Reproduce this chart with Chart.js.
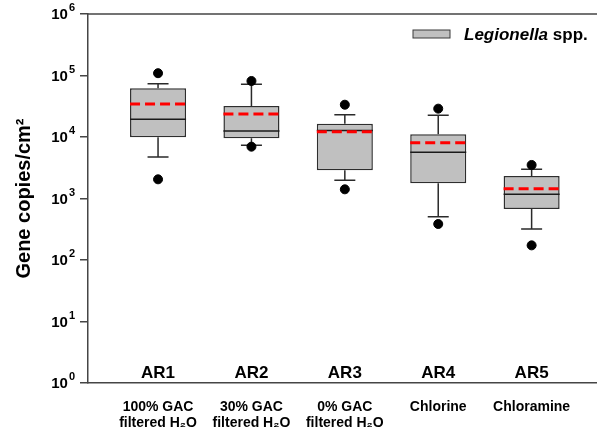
<!DOCTYPE html>
<html>
<head>
<meta charset="utf-8">
<script src="https://cdn.jsdelivr.net/npm/chart.js@4.4.1/dist/chart.umd.min.js"></script>
<style>
  html, body { margin: 0; padding: 0; background: #fff; }
  #wrap { width: 597px; height: 437px; position: relative; }
</style>
</head>
<body>
<div id="wrap"><canvas id="chart"></canvas></div>
<script>
// Legionella spp. gene copies per cm² for the five annular reactors
const reactors = ['AR1', 'AR2', 'AR3', 'AR4', 'AR5'];
const treatments = [
  ['100% GAC', 'filtered H₂O'],
  ['30% GAC', 'filtered H₂O'],
  ['0% GAC', 'filtered H₂O'],
  'Chlorine',
  'Chloramine'
];
const positions = [1, 2, 3, 4, 5];

// box-plot summaries (gene copies/cm²)
const whiskerLow  = [4730, 7330, 1980, 506, 319];
const q1          = [9900, 9500, 2870, 1770, 675];
const median      = [19400, 12500, 12800, 5640, 1170];
const mean        = [34400, 23700, 12200, 8080, 1440];
const q3          = [62000, 31900, 16400, 11100, 2320];
const whiskerHigh = [73600, 71900, 23100, 22500, 2980];
const outlierLow  = [2050, 6960, 1410, 385, 173];
const outlierHigh = [109000, 81400, 33500, 28900, 3510];

// y-axis decade ticks and their exponents
const decadeTicks = [1, 10, 100, 1000, 10000, 100000, 1000000];
const decadeExponents = ['0', '1', '2', '3', '4', '5', '6'];

const FONT = '"Liberation Sans", Arial, Helvetica, sans-serif';
const AXIS_COLOR = '#454545';

const boxPlotPlugin = {
  id: 'boxPlotParts',
  beforeDatasetsDraw(chart) {
    // whiskers and caps, drawn behind the points
    const ctx = chart.ctx;
    const xs = chart.scales.x, ys = chart.scales.y;
    ctx.save();
    ctx.strokeStyle = '#2a2a2a';
    ctx.lineWidth = 1.5;
    const capHalf = 10.5;
    positions.forEach((p, i) => {
      const cx = xs.getPixelForValue(p);
      const segs = [[q3[i], whiskerHigh[i]], [q1[i], whiskerLow[i]]];
      segs.forEach(([from, to]) => {
        const y0 = ys.getPixelForValue(from);
        const y1 = ys.getPixelForValue(to);
        ctx.beginPath();
        ctx.moveTo(cx, y0);
        ctx.lineTo(cx, y1);
        ctx.moveTo(cx - capHalf, y1);
        ctx.lineTo(cx + capHalf, y1);
        ctx.stroke();
      });
    });
    ctx.restore();
  },
  afterDatasetsDraw(chart) {
    // median (solid black) and mean (dashed red) inside each box
    const ctx = chart.ctx;
    const xs = chart.scales.x, ys = chart.scales.y;
    const boxes = chart.getDatasetMeta(0).data;
    ctx.save();
    positions.forEach((p, i) => {
      const cx = xs.getPixelForValue(p);
      const half = boxes[i].width / 2;
      const ym = ys.getPixelForValue(median[i]);
      ctx.setLineDash([]);
      ctx.strokeStyle = '#1a1a1a';
      ctx.lineWidth = 1.5;
      ctx.beginPath();
      ctx.moveTo(cx - half, ym);
      ctx.lineTo(cx + half, ym);
      ctx.stroke();

      const ya = ys.getPixelForValue(mean[i]);
      ctx.setLineDash([10, 5]);
      ctx.strokeStyle = '#ff0000';
      ctx.lineWidth = 3;
      ctx.beginPath();
      ctx.moveTo(cx - half, ya);
      ctx.lineTo(cx + half, ya);
      ctx.stroke();
    });
    ctx.restore();
  },
  afterDraw(chart) {
    const ctx = chart.ctx;
    const area = chart.chartArea;
    const xs = chart.scales.x, ys = chart.scales.y;
    ctx.save();

    // top frame line
    ctx.strokeStyle = AXIS_COLOR;
    ctx.lineWidth = 1.5;
    ctx.beginPath();
    ctx.moveTo(area.left, area.top);
    ctx.lineTo(area.right, area.top);
    ctx.stroke();

    // y tick labels as 10 with a raised exponent
    ctx.fillStyle = '#000';
    ys.ticks.forEach((t) => {
      const y = ys.getPixelForValue(t.value);
      const exp = decadeExponents[decadeTicks.indexOf(t.value)];
      ctx.font = 'bold 11px ' + FONT;
      const wExp = ctx.measureText(exp).width;
      ctx.font = 'bold 15px ' + FONT;
      const wBase = ctx.measureText('10').width;
      const right = area.left - 13;
      ctx.textAlign = 'left';
      ctx.textBaseline = 'middle';
      ctx.fillText('10', right - wExp - wBase - 1, y + 1);
      ctx.font = 'bold 11px ' + FONT;
      ctx.textBaseline = 'alphabetic';
      ctx.fillText(exp, right - wExp, y - 3);
    });

    // reactor names just above the x axis
    ctx.font = 'bold 17px ' + FONT;
    ctx.textAlign = 'center';
    ctx.textBaseline = 'alphabetic';
    positions.forEach((p, i) => {
      ctx.fillText(reactors[i], xs.getPixelForValue(p), area.bottom - 5);
    });

    // legend
    const lx = area.left + 325, ly = area.top + 16;
    ctx.fillStyle = '#c0c0c0';
    ctx.fillRect(lx, ly, 37, 8);
    ctx.strokeStyle = '#3a3a3a';
    ctx.lineWidth = 1;
    ctx.strokeRect(lx, ly, 37, 8);
    ctx.fillStyle = '#000';
    ctx.textAlign = 'left';
    ctx.font = 'italic bold 17px ' + FONT;
    const genus = 'Legionella';
    ctx.fillText(genus, lx + 51, ly + 9.5);
    const wg = ctx.measureText(genus).width;
    ctx.font = 'bold 17px ' + FONT;
    ctx.fillText(' spp.', lx + 51 + wg, ly + 9.5);

    ctx.restore();
  }
};

new Chart(document.getElementById('chart'), {
  type: 'bar',
  data: {
    datasets: [
      {
        type: 'bar',
        label: 'Legionella spp.',
        data: positions.map((p, i) => ({ x: p, y: [q1[i], q3[i]] })),
        backgroundColor: '#c0c0c0',
        borderColor: '#2e2e2e',
        borderWidth: 1.5,
        borderSkipped: false,
        barPercentage: 0.6,
        categoryPercentage: 1
      },
      {
        type: 'scatter',
        label: 'extremes',
        data: positions.flatMap((p, i) => [
          { x: p, y: outlierLow[i] },
          { x: p, y: outlierHigh[i] }
        ]),
        backgroundColor: '#000',
        borderColor: '#000',
        pointRadius: 4.5,
        pointHoverRadius: 4.5
      }
    ]
  },
  options: {
    responsive: true,
    maintainAspectRatio: false,
    animation: false,
    layout: { autoPadding: false, padding: { top: 14, right: 0, bottom: 0, left: 0 } },
    plugins: {
      legend: { display: false },
      tooltip: { enabled: false }
    },
    scales: {
      x: {
        type: 'linear',
        offset: false,
        min: 0.25,
        max: 5.70,
        afterBuildTicks: (s) => { s.ticks = positions.map(v => ({ value: v })); },
        afterFit: (s) => { s.height = 54; s.paddingLeft = 0; s.paddingRight = 0; },
        grid: { display: false, drawTicks: false },
        border: { display: true, color: AXIS_COLOR, width: 1.5 },
        ticks: {
          autoSkip: false,
          maxRotation: 0,
          padding: 16,
          color: '#000',
          font: { family: FONT, size: 14, weight: 'bold', lineHeight: 1.15 },
          callback: (v) => treatments[positions.indexOf(v)]
        }
      },
      y: {
        type: 'logarithmic',
        min: 1,
        max: 1000000,
        afterBuildTicks: (s) => { s.ticks = decadeTicks.map(v => ({ value: v })); },
        afterFit: (s) => { s.width = 88; },
        grid: { drawOnChartArea: false, drawTicks: true, tickLength: 8, color: AXIS_COLOR, lineWidth: 1.5 },
        border: { display: true, color: AXIS_COLOR, width: 1.5 },
        ticks: { display: false },
        title: {
          display: true,
          text: 'Gene copies/cm²',
          color: '#000',
          padding: { top: 12, bottom: 0 },
          font: { family: FONT, size: 20, weight: 'bold' }
        }
      }
    }
  },
  plugins: [boxPlotPlugin]
});
</script>
</body>
</html>
